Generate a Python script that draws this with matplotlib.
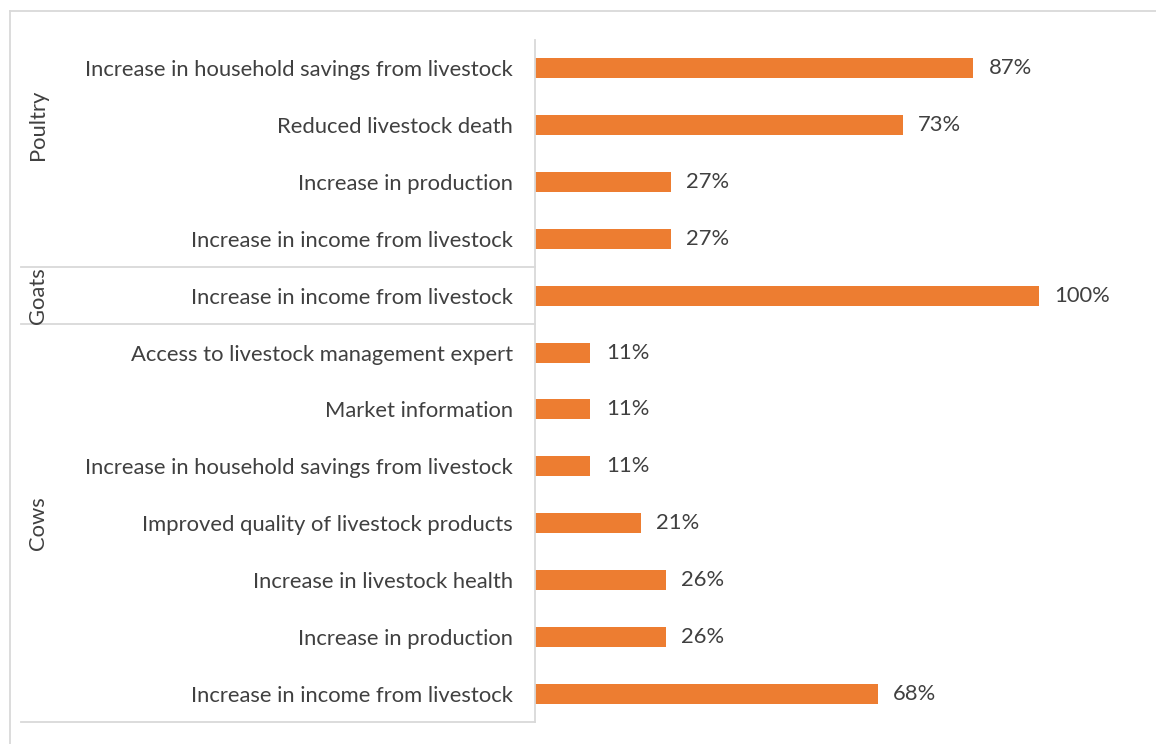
import matplotlib
matplotlib.use("Agg")
import matplotlib.pyplot as plt
from matplotlib.lines import Line2D
from matplotlib import transforms

# Survey results: share of respondents reporting each benefit, by livestock type
groups = ["Poultry", "Goats", "Cows"]
group_sizes = [4, 1, 7]
categories = [
    "Increase in household savings from livestock",
    "Reduced livestock death",
    "Increase in production",
    "Increase in income from livestock",
    "Increase in income from livestock",
    "Access to livestock management expert",
    "Market information",
    "Increase in household savings from livestock",
    "Improved quality of livestock products",
    "Increase in livestock health",
    "Increase in production",
    "Increase in income from livestock",
]
values = [87, 73, 27, 27, 100, 11, 11, 11, 21, 26, 26, 68]

plt.rcParams["font.family"] = ["Lato", "DejaVu Sans"]
W, H = 1156, 744
fig = plt.figure(figsize=(W / 100, H / 100), dpi=100)
fig.patch.set_facecolor("white")

ax = fig.add_axes([535 / W, (H - 722) / H, (1039 - 535) / W, 682 / H])
ypos = list(range(len(values)))
ax.barh(ypos, values, height=0.35, color="#ED7D31", zorder=2)
ax.set_xlim(0, 100)
ax.set_ylim(len(values) - 0.5, -0.5)

text_color = "#404040"
fs = 15.8
for y, v in zip(ypos, values):
    ax.annotate(f"{v}%", (v, y), xytext=(11, 0), textcoords="offset points",
                ha="left", va="center", fontsize=fs, color=text_color,
                annotation_clip=False)

ax.set_xticks([])
ax.set_yticks(ypos)
ax.set_yticklabels(categories, fontsize=fs, color=text_color)
ax.tick_params(axis="y", length=0, pad=16)
for s in ["top", "right", "bottom"]:
    ax.spines[s].set_visible(False)
ax.spines["left"].set_color("#d9d9d9")
ax.spines["left"].set_linewidth(1.3)

# group separators and bottom rule, spanning from the group column to the axis
line_color = "#d9d9d9"
blend = transforms.blended_transform_factory(fig.transFigure, ax.transData)
x0, x1 = 21 / W, 535 / W
start = 0
bounds = []
for n in group_sizes:
    start += n
    bounds.append(start - 0.5)
for b in bounds:
    fig.add_artist(Line2D([x0, x1], [b, b], transform=blend,
                          color=line_color, lw=1.3, clip_on=False))

# group names, rotated, beside their rows
group_centers = [1, 4, 8]
for g, c in zip(groups, group_centers):
    fig.text(38 / W, c, g, transform=blend, rotation=90, ha="center",
             va="center", fontsize=fs, color=text_color)

# chart frame
fig.add_artist(Line2D([10 / W, 1.0], [1 - 11 / H, 1 - 11 / H],
                      transform=fig.transFigure, color=line_color, lw=1.3))
fig.add_artist(Line2D([10 / W, 10 / W], [0, 1 - 11 / H],
                      transform=fig.transFigure, color=line_color, lw=1.3))

fig.savefig("out.png", dpi=100, facecolor="white")
